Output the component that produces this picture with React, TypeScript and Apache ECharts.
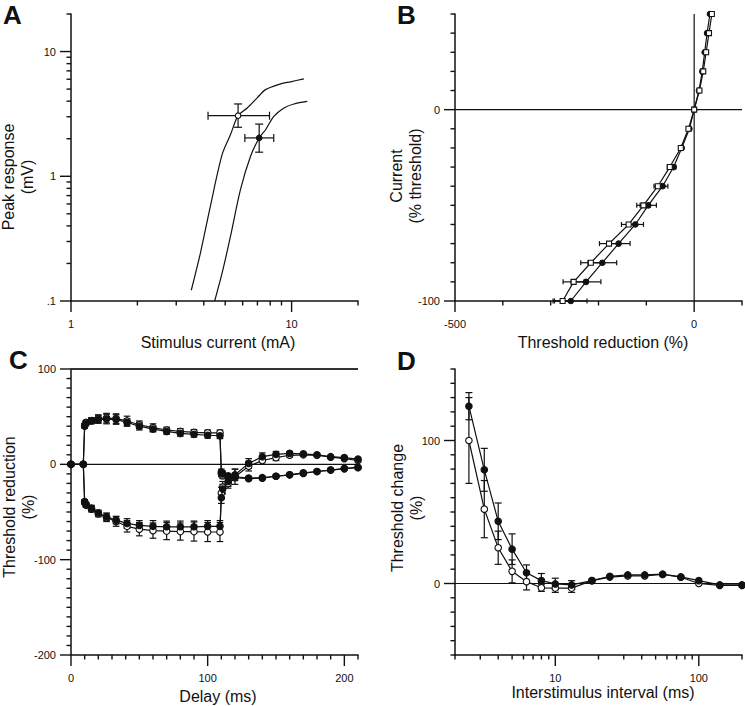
import React, { useEffect, useRef } from 'react';
import * as echarts from 'echarts';

const FONT = '"Liberation Sans", Arial, Helvetica, sans-serif';
const INK = '#111111';

// ---------------- Panel A : stimulus-response ----------------
const A_LEFT_CURVE_X = [3.51, 3.86, 4.28, 4.84, 5.28, 5.72, 6.29, 6.98, 7.62, 8.91, 9.89, 11.37];
const A_LEFT_CURVE_Y = [0.122, 0.242, 0.572, 1.49, 2.15, 3.06, 3.53, 4.25, 4.95, 5.5, 5.72, 6.04];
const A_RIGHT_CURVE_X = [4.48, 4.84, 5.28, 5.86, 6.51, 7.13, 7.62, 8.31, 9.23, 10.24, 11.78];
const A_RIGHT_CURVE_Y = [0.1, 0.167, 0.328, 0.779, 1.44, 2.03, 2.36, 3.02, 3.53, 3.8, 3.98];
// [x, y, xLow, xHigh, yLow, yHigh]
const A_OPEN_POINT = [5.72, 3.06, 4.18, 7.94, 2.47, 3.8];
const A_FILLED_POINT = [7.13, 2.03, 6.14, 8.3, 1.56, 2.62];
const A_X_LABELS: [number, string][] = [[1, '1'], [10, '10']];
const A_Y_LABELS: [number, string][] = [[0.1, '.1'], [1, '1'], [10, '10']];
const A_X_MAJOR = [1, 10];
const A_X_MINOR = [2, 3, 4, 5, 6, 7, 8, 9, 20];
const A_Y_MAJOR = [0.1, 1, 10];
const A_Y_MINOR = [0.2, 0.3, 0.4, 0.5, 0.6, 0.7, 0.8, 0.9, 2, 3, 4, 5, 6, 7, 8, 9, 20];

// ---------------- Panel B : current-threshold ----------------
const B_CURRENT = [50, 40, 30, 20, 10, 0, -10, -20, -30, -40, -50, -60, -70, -80, -90, -100];
const B_FILLED = [33, 27, 22, 17, 10, 0, -10, -26, -43, -66, -96, -123, -158, -192, -226, -258];
const B_FILLED_ERR = [0, 0, 0, 0, 0, 0, 0, 0, 5, 11, 17, 17, 24, 30, 31, 34];
const B_OPEN = [37, 31, 25, 19, 11, 0, -12, -28, -51, -76, -106, -137, -178, -216, -252, -275];
const B_OPEN_ERR = [0, 0, 0, 0, 0, 0, 0, 0, 5, 8, 14, 15, 20, 21, 22, 20];
const B_X_LABELS: [number, string][] = [[-500, '-500'], [0, '0']];
const B_Y_LABELS: [number, string][] = [[-100, '-100'], [0, '0']];
const B_X_MAJOR = [-500, 0];
const B_X_MINOR = [-400, -300, -200, -100, 100];
const B_Y_MAJOR = [-100, 0];
const B_Y_MINOR = [-90, -80, -70, -60, -50, -40, -30, -20, -10, 10, 20, 30, 40, 50];

// ---------------- Panel C : threshold electrotonus ----------------
const C_DELAY = [0, 9, 10, 11, 15, 20, 26, 33, 41, 50, 60, 70, 80, 90, 100, 109, 110, 111, 115, 120, 130, 140, 150, 160, 170, 180, 190, 200, 210];
const C_TED_FILLED = [0, 0, 40, 43, 45.5, 47, 47.5, 47, 44, 40, 37, 34.5, 32.5, 31.5, 30.5, 30, -8, -10, -12, -13, -14.5, -14, -12.5, -11, -9, -7.5, -6, -4.5, -3.5];
const C_TED_FILLED_ERR = [0, 0, 2, 2, 3, 4, 5, 5, 4, 4, 3, 3, 3, 3, 3, 3, 3, 3, 0, 0, 0, 0, 0, 0, 0, 0, 0, 0, 0];
const C_TED_OPEN = [0, 0, 41, 44, 46, 48, 48.5, 48, 45.5, 41.5, 38.5, 36, 34.5, 33.5, 33, 33, -10, -12, -13, -14, -15, -14.5, -12.5, -11, -9.5, -7.5, -6, -4.5, -3];
const C_TED_OPEN_ERR = [0, 0, 2, 2, 3, 4, 5, 5, 5, 4, 4, 3, 3, 3, 3, 3, 3, 3, 0, 0, 0, 0, 0, 0, 0, 0, 0, 0, 0];
const C_TEH_FILLED = [0, 0, -39, -42, -46, -51, -55, -58.5, -62, -64, -65, -65.5, -65.5, -65.5, -65, -65, -35, -26, -18, -11, 1, 8, 10.5, 11.5, 11, 10, 8, 7, 5.5];
const C_TEH_FILLED_ERR = [0, 0, 2, 2, 3, 3, 4, 4, 5, 5, 6, 6, 6, 6, 6, 6, 6, 5, 5, 6, 5, 4, 3, 2, 0, 0, 0, 0, 0];
const C_TEH_OPEN = [0, 0, -40, -43, -47, -52, -56, -60, -65, -68, -69.5, -70, -70.5, -70.5, -71, -71, -30, -24, -20, -13, -2, 4, 7, 9.5, 10, 9.5, 7.5, 6, 4];
const C_TEH_OPEN_ERR = [0, 0, 2, 2, 3, 3, 4, 5, 6, 7, 8, 9, 9, 10, 10, 10, 6, 6, 5, 8, 5, 4, 3, 2, 0, 0, 0, 0, 0];
const C_LIMIT_LINE = 100;
const C_X_LABELS: [number, string][] = [[0, '0'], [100, '100'], [200, '200']];
const C_Y_LABELS: [number, string][] = [[-200, '-200'], [-100, '-100'], [0, '0'], [100, '100']];
const C_X_MAJOR = [0, 100, 200];
const C_Y_MAJOR = [-200, -100, 0, 100];

// ---------------- Panel D : recovery cycle ----------------
const D_ISI = [2.5, 3.2, 4, 5, 6.3, 8, 10, 13, 18, 24, 32, 42, 56, 75, 100, 140, 200];
const D_FILLED = [124, 79.5, 43.5, 24, 7.5, 2, -0.3, -1, 2, 5, 6, 6, 6.5, 4.6, 2, -1, -1];
const D_FILLED_ERR = [9.5, 15, 12.8, 10.7, 5.5, 5, 4, 3, 0, 0, 0, 0, 0, 0, 0, 0, 0];
const D_OPEN = [100, 52, 25, 8.5, 1.3, -3, -3.2, -3.2, 2, 4.5, 5.3, 5.3, 6.3, 4.4, 0, -1.3, -1.3];
const D_OPEN_ERR = [30, 20, 11.6, 8, 5.8, 2.5, 3, 3, 0, 0, 0, 0, 0, 0, 0, 0, 0];
const D_X_LABELS: [number, string][] = [[10, '10'], [100, '100']];
const D_Y_LABELS: [number, string][] = [[0, '0'], [100, '100']];
const D_X_MAJOR = [10, 100];
const D_X_MINOR = [2, 3, 4, 5, 6, 7, 8, 9, 20, 30, 40, 50, 60, 70, 80, 90, 200];
const D_Y_MAJOR = [0, 100];

// ---------------- helpers ----------------
const steps = (a: number, b: number, s: number, skip: number[]) => {
  const out: number[] = [];
  for (let v = a; v <= b + 1e-9; v += s) if (!skip.includes(v)) out.push(v);
  return out;
};
const C_X_MINOR = steps(0, 210, 10, C_X_MAJOR);
const C_Y_MINOR = steps(-200, 100, 10, C_Y_MAJOR);
const D_Y_MINOR = steps(-50, 150, 10, D_Y_MAJOR);

const EXT = [
  { x: [1, 20], y: [0.1, 20] },
  { x: [-500, 100], y: [-100, 50] },
  { x: [0, 210], y: [-200, 100] },
  { x: [2, 200], y: [-50, 150] },
];
const TYPES = [
  { x: 'log', y: 'log' },
  { x: 'value', y: 'value' },
  { x: 'value', y: 'value' },
  { x: 'log', y: 'value' },
];
const GRID_RECTS = [
  { left: 71, top: 14, width: 287, height: 287 },
  { left: 455, top: 14, width: 287, height: 287 },
  { left: 71, top: 369, width: 287, height: 286 },
  { left: 455, top: 369, width: 287, height: 286 },
];
// per grid: [x major, x minor, y major, y minor]
const TICKS = [
  [A_X_MAJOR, A_X_MINOR, A_Y_MAJOR, A_Y_MINOR],
  [B_X_MAJOR, B_X_MINOR, B_Y_MAJOR, B_Y_MINOR],
  [C_X_MAJOR, C_X_MINOR, C_Y_MAJOR, C_Y_MINOR],
  [D_X_MAJOR, D_X_MINOR, D_Y_MAJOR, D_Y_MINOR],
];

const MAJOR_LEN = 11;
const MINOR_LEN = 4.5;
const TICK_W = 1.4;

const fmt = (labels: [number, string][]) => (v: number) => {
  const m = labels.find(([val]) => Math.abs(val - v) < 1e-6 * Math.max(1, Math.abs(val)));
  return m ? m[1] : '';
};

// tick marks: thin rectangle symbols anchored on the axis at each tick value
function tickSeries(gi: number) {
  const e = EXT[gi];
  const [xM, xm, yM, ym] = TICKS[gi];
  const data: any[] = [];
  const xt = (v: number, len: number) =>
    data.push({ value: [v, e.y[0]], symbolSize: [TICK_W, len], symbolOffset: [0, len / 2] });
  const yt = (v: number, len: number) =>
    data.push({ value: [e.x[0], v], symbolSize: [len, TICK_W], symbolOffset: [-len / 2, 0] });
  xM.forEach((v) => xt(v, MAJOR_LEN));
  xm.forEach((v) => xt(v, MINOR_LEN));
  yM.forEach((v) => yt(v, MAJOR_LEN));
  ym.forEach((v) => yt(v, MINOR_LEN));
  return {
    type: 'scatter',
    xAxisIndex: gi,
    yAxisIndex: gi,
    symbol: 'rect',
    data,
    silent: true,
    clip: false,
    z: 5,
    itemStyle: { color: INK, opacity: 1, borderWidth: 0 },
    emphasis: { disabled: true },
  };
}

function errSeries(gi: number, data: number[][], cap: number) {
  return {
    type: 'custom',
    xAxisIndex: gi,
    yAxisIndex: gi,
    silent: true,
    z: 1,
    clip: false,
    data,
    renderItem: (_p: any, api: any) => {
      const x = api.value(0), y = api.value(1);
      const xlo = api.value(2), xhi = api.value(3), ylo = api.value(4), yhi = api.value(5);
      const style = { stroke: INK, lineWidth: 1.2 };
      const ch: any[] = [];
      const seg = (x1: number, y1: number, x2: number, y2: number) =>
        ch.push({ type: 'line', shape: { x1, y1, x2, y2 }, style });
      if (ylo !== yhi) {
        const a = api.coord([x, ylo]), b = api.coord([x, yhi]);
        seg(a[0], a[1], b[0], b[1]);
        seg(a[0] - cap, a[1], a[0] + cap, a[1]);
        seg(b[0] - cap, b[1], b[0] + cap, b[1]);
      }
      if (xlo !== xhi) {
        const a = api.coord([xlo, y]), b = api.coord([xhi, y]);
        seg(a[0], a[1], b[0], b[1]);
        seg(a[0], a[1] - cap, a[0], a[1] + cap);
        seg(b[0], b[1] - cap, b[0], b[1] + cap);
      }
      return { type: 'group', children: ch };
    },
  };
}

function lineSeries(gi: number, pts: number[][], filled: boolean, symbol: string, size: number, z = 2, smooth: any = false) {
  return {
    type: 'line',
    xAxisIndex: gi,
    yAxisIndex: gi,
    data: pts,
    smooth,
    symbol,
    symbolSize: size,
    showSymbol: symbol !== 'none',
    showAllSymbol: true,
    silent: true,
    z,
    lineStyle: { color: INK, width: 1.2 },
    itemStyle: { color: filled ? INK : '#ffffff', borderColor: INK, borderWidth: 1.1 },
  };
}

const zip = (xs: number[], ys: number[]) => xs.map((x, i) => [x, ys[i]]);
const yErrRows = (xs: number[], ys: number[], es: number[]) =>
  xs.map((x, i) => [x, ys[i], x, x, ys[i] - es[i], ys[i] + es[i]]);
const xErrRows = (xs: number[], ys: number[], es: number[]) =>
  xs.map((x, i) => [x, ys[i], x - es[i], x + es[i], ys[i], ys[i]]);

function axis(gi: number, dim: 'x' | 'y', labels: [number, string][], interval?: number) {
  const e = (EXT[gi] as any)[dim];
  const type = (TYPES[gi] as any)[dim];
  const a: any = {
    gridIndex: gi,
    type,
    min: e[0],
    max: e[1],
    axisLine: { show: true, onZero: false, lineStyle: { color: INK, width: 1.5 } },
    axisTick: { show: false },
    splitLine: { show: false },
    axisLabel: {
      show: true,
      color: INK,
      fontFamily: FONT,
      fontSize: 11,
      margin: dim === 'x' ? 17 : 15,
      formatter: fmt(labels),
    },
  };
  if (type === 'log') a.logBase = 10;
  if (interval !== undefined) a.interval = interval;
  return a;
}

function staticGraphics() {
  const titleStyle = { font: `16px ${FONT}`, fill: INK, align: 'center', verticalAlign: 'middle', lineHeight: 19 };
  const titles = [
    { text: 'Stimulus current (mA)', x: 218, y: 342, r: 0 },
    { text: 'Threshold reduction (%)', x: 603, y: 342, r: 0 },
    { text: 'Delay (ms)', x: 218, y: 696, r: 0 },
    { text: 'Interstimulus interval (ms)', x: 603, y: 692, r: 0 },
    { text: 'Peak response\n(mV)', x: 18, y: 177, r: Math.PI / 2 },
    { text: 'Current\n(% threshold)', x: 406, y: 176, r: Math.PI / 2 },
    { text: 'Threshold reduction\n(%)', x: 18.5, y: 507, r: Math.PI / 2 },
    { text: 'Threshold change\n(%)', x: 407, y: 508, r: Math.PI / 2 },
  ].map((t) => ({ type: 'text', x: t.x, y: t.y, rotation: t.r, style: { ...titleStyle, text: t.text } }));
  const letters = [
    { text: 'A', x: 3, y: 15 },
    { text: 'B', x: 397, y: 15 },
    { text: 'C', x: 9, y: 360 },
    { text: 'D', x: 397, y: 361 },
  ].map((t) => ({
    type: 'text', x: t.x, y: t.y,
    style: { text: t.text, font: `bold 26px ${FONT}`, fill: INK, align: 'left', verticalAlign: 'middle' },
  }));
  return [...titles, ...letters];
}

function buildOption() {
  const series: any[] = [
    // A
    lineSeries(0, zip(A_LEFT_CURVE_X, A_LEFT_CURVE_Y), true, 'none', 0, 2, 0.3),
    lineSeries(0, zip(A_RIGHT_CURVE_X, A_RIGHT_CURVE_Y), true, 'none', 0, 2, 0.3),
    errSeries(0, [A_OPEN_POINT, A_FILLED_POINT], 4),
    lineSeries(0, [[A_OPEN_POINT[0], A_OPEN_POINT[1]]], false, 'circle', 5.5, 3),
    lineSeries(0, [[A_FILLED_POINT[0], A_FILLED_POINT[1]]], true, 'circle', 5.5, 3),
    // B
    lineSeries(1, [[0, EXT[1].y[0]], [0, EXT[1].y[1]]], true, 'none', 0, 1),
    lineSeries(1, [[EXT[1].x[0], 0], [EXT[1].x[1], 0]], true, 'none', 0, 1),
    errSeries(1, xErrRows(B_OPEN, B_CURRENT, B_OPEN_ERR), 2.5),
    errSeries(1, xErrRows(B_FILLED, B_CURRENT, B_FILLED_ERR), 2.5),
    lineSeries(1, zip(B_FILLED, B_CURRENT), true, 'circle', 5.5, 2),
    lineSeries(1, zip(B_OPEN, B_CURRENT), false, 'rect', 5, 3),
    // C
    lineSeries(2, [[EXT[2].x[0], 0], [EXT[2].x[1], 0]], true, 'none', 0, 1),
    { ...lineSeries(2, [[EXT[2].x[0], C_LIMIT_LINE], [EXT[2].x[1], C_LIMIT_LINE]], true, 'none', 0, 1), lineStyle: { color: '#333', width: 2 } },
    errSeries(2, yErrRows(C_DELAY, C_TED_OPEN, C_TED_OPEN_ERR), 3.3),
    errSeries(2, yErrRows(C_DELAY, C_TED_FILLED, C_TED_FILLED_ERR), 3.3),
    errSeries(2, yErrRows(C_DELAY, C_TEH_OPEN, C_TEH_OPEN_ERR), 3.3),
    errSeries(2, yErrRows(C_DELAY, C_TEH_FILLED, C_TEH_FILLED_ERR), 3.3),
    lineSeries(2, zip(C_DELAY, C_TED_OPEN), false, 'circle', 6.5, 2),
    lineSeries(2, zip(C_DELAY, C_TEH_OPEN), false, 'circle', 6.5, 2),
    lineSeries(2, zip(C_DELAY, C_TED_FILLED), true, 'circle', 6.5, 3),
    lineSeries(2, zip(C_DELAY, C_TEH_FILLED), true, 'circle', 6.5, 3),
    // D
    lineSeries(3, [[EXT[3].x[0], 0], [EXT[3].x[1], 0]], true, 'none', 0, 1),
    errSeries(3, yErrRows(D_ISI, D_OPEN, D_OPEN_ERR), 3.5),
    errSeries(3, yErrRows(D_ISI, D_FILLED, D_FILLED_ERR), 3.5),
    lineSeries(3, zip(D_ISI, D_OPEN), false, 'circle', 6.5, 2),
    lineSeries(3, zip(D_ISI, D_FILLED), true, 'circle', 6.5, 3),
    // ticks
    tickSeries(0),
    tickSeries(1),
    tickSeries(2),
    tickSeries(3),
  ];

  return {
    animation: false,
    grid: GRID_RECTS.map((g) => ({ ...g })),
    xAxis: [
      axis(0, 'x', A_X_LABELS),
      axis(1, 'x', B_X_LABELS, 100),
      axis(2, 'x', C_X_LABELS, 100),
      axis(3, 'x', D_X_LABELS),
    ],
    yAxis: [
      axis(0, 'y', A_Y_LABELS),
      axis(1, 'y', B_Y_LABELS, 50),
      axis(2, 'y', C_Y_LABELS, 100),
      axis(3, 'y', D_Y_LABELS, 50),
    ],
    graphic: staticGraphics(),
    series,
  };
}

export default function App() {
  const ref = useRef<HTMLDivElement>(null);
  useEffect(() => {
    if (!ref.current) return;
    const chart = echarts.init(ref.current, undefined, { renderer: 'svg' });
    chart.setOption(buildOption() as any);
    return () => chart.dispose();
  }, []);
  return (
    <div
      ref={ref}
      style={{ position: 'fixed', left: 0, top: 0, width: 745, height: 706, background: '#ffffff' }}
    />
  );
}
